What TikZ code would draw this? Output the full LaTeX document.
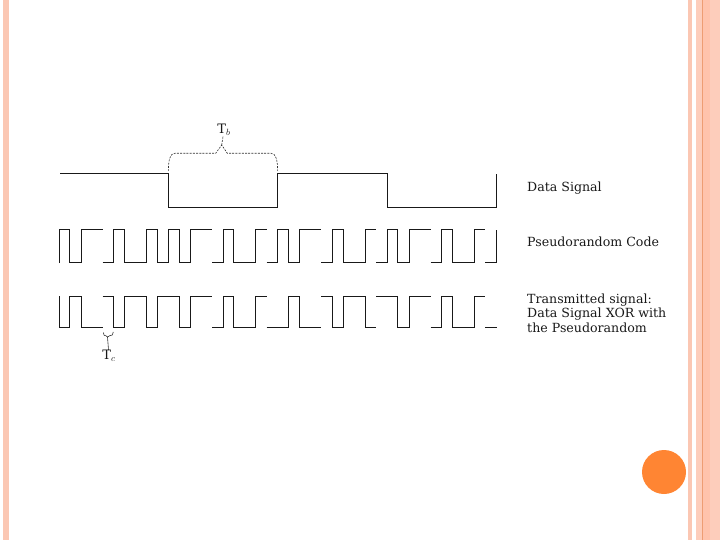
\documentclass[tikz,border=0pt]{standalone}
\usepackage{fontspec}
\setmainfont{DejaVu Serif}
\definecolor{barpeach}{HTML}{FBC7B3}
\definecolor{barlight}{HTML}{FDCDBB}
\definecolor{barmid}{HTML}{FFC3AC}
\definecolor{barline}{HTML}{EE9D73}
\definecolor{dotorange}{HTML}{FF8533}
\tikzset{
  signal/.style={line width=1pt,black!90},
  bracket/.style={line width=0.6pt,black!80},
  sigtext/.style={anchor=base west,font=\fontsize{12.6}{14.5}\selectfont,align=left,text=black!90,inner sep=0pt},
  symtext/.style={font=\fontsize{13}{15}\selectfont,text=black!90,inner sep=0pt}
}
\begin{document}
\begin{tikzpicture}[x=1pt,y=-1pt]
  \useasboundingbox (0,0) rectangle (720,540);
  % slide background
  \fill[barpeach] (3,0) rectangle (9,540);
  \fill[barpeach] (688,0) rectangle (692,540);
  \fill[barlight] (696,0) rectangle (703,540);
  \fill[barmid] (703,0) rectangle (710,540);
  \fill[barlight] (710,0) rectangle (720,540);
  \fill[barline] (702,0) rectangle (703,540);
  \fill[dotorange] (664,472) circle (22);

  % data signal
  \draw[signal] (60,174) -- (168.4,174) -- (168.4,207.5) -- (277.6,207.5) -- (277.6,174) -- (387,174) -- (387,207.5) -- (496.4,207.5) -- (496.4,174);
  \coordinate (tbpeak) at (221.7,145);
  \node[symtext] (tb) at (224,130) {T$_b$};
  \draw[bracket,dash pattern=on 2pt off 1.2pt] (168.4,171) .. controls (168.4,160) and (170,153.3) .. (175,153.3) -- (215.7,153.3) -- (tbpeak) -- (227.3,153.3) -- (271,153.3) .. controls (276,153.3) and (277.6,160) .. (277.6,171);
  \draw[bracket,dash pattern=on 2pt off 1.2pt] (tbpeak) -- (tb);

  % pseudorandom code
  \draw[signal] (59.4,263) -- (59.4,229.5) -- (69.4,229.5) -- (69.4,262.7) -- (81.3,262.7) -- (81.3,229.5) -- (102.7,229.5);
  \draw[signal] (102.7,262.7) -- (113.3,262.7) -- (113.3,229.5) -- (124.7,229.5) -- (124.7,262.7) -- (146.7,262.7) -- (146.7,229.5) -- (157.7,229.5) -- (157.7,262.7) -- (168.7,262.7) -- (168.7,229.5) -- (179.3,229.5) -- (179.3,262.7) -- (190.7,262.7) -- (190.7,229.5) -- (212,229.5);
  \draw[signal] (212,262.7) -- (223.7,262.7) -- (223.7,229.5) -- (233.3,229.5) -- (233.3,262.7) -- (255.7,262.7) -- (255.7,229.5) -- (266.7,229.5);
  \draw[signal] (266.7,262.7) -- (277.3,262.7) -- (277.3,229.5) -- (288.3,229.5) -- (288.3,262.7) -- (299.7,262.7) -- (299.7,229.5) -- (321,229.5);
  \draw[signal] (321,262.7) -- (332.3,262.7) -- (332.3,229.5) -- (343.3,229.5) -- (343.3,262.7) -- (365.3,262.7) -- (365.3,229.5) -- (376,229.5);
  \draw[signal] (376,262.7) -- (387.7,262.7) -- (387.7,229.5) -- (397.3,229.5) -- (397.3,262.7) -- (409.3,262.7) -- (409.3,229.5) -- (430.7,229.5);
  \draw[signal] (430.7,262.7) -- (441.7,262.7) -- (441.7,229.5) -- (452.7,229.5) -- (452.7,262.7) -- (474.3,262.7) -- (474.3,229.5) -- (485.3,229.5);
  \draw[signal] (485.3,262.7) -- (496.7,262.7) -- (496.7,230);

  % transmitted signal
  \draw[signal] (59.4,296) -- (59.4,327.7) -- (69.4,327.7) -- (69.4,296) -- (81.3,296) -- (81.3,327.7) -- (102.7,327.7);
  \draw[signal] (102.7,296) -- (113.3,296) -- (113.3,327.7) -- (124.7,327.7) -- (124.7,296) -- (146.7,296) -- (146.7,327.7) -- (157.7,327.7) -- (157.7,296) -- (179.3,296) -- (179.3,327.7) -- (190.7,327.7) -- (190.7,296) -- (212,296);
  \draw[signal] (212,327.7) -- (223.7,327.7) -- (223.7,296) -- (233.3,296) -- (233.3,327.7) -- (255.7,327.7) -- (255.7,296) -- (266.7,296);
  \draw[signal] (266.7,327.7) -- (288.3,327.7) -- (288.3,296) -- (299.7,296) -- (299.7,327.7) -- (321,327.7);
  \draw[signal] (321,296) -- (332.3,296) -- (332.3,327.7) -- (343.3,327.7) -- (343.3,296) -- (365.3,296) -- (365.3,327.7) -- (376,327.7);
  \draw[signal] (376,296) -- (397.3,296) -- (397.3,327.7) -- (409.3,327.7) -- (409.3,296) -- (430.7,296);
  \draw[signal] (430.7,327.7) -- (441.7,327.7) -- (441.7,296) -- (452.7,296) -- (452.7,327.7) -- (474.3,327.7) -- (474.3,296) -- (485.3,296);
  \draw[signal] (485.3,327.7) -- (496.7,327.7);

  \coordinate (tcpeak) at (107.5,337);
  \node[symtext] (tc) at (109,356) {T$_c$};
  \draw[bracket] (103.3,332.5) .. controls (103.5,335.5) and (104.5,335.8) .. (106,335.8) -- (tcpeak) -- (109.5,335.8) .. controls (112,335.8) and (113,335) .. (113.3,332);
  \draw[bracket] (tcpeak) -- (tc);

  % labels
  \node[sigtext] (datalabel) at (527,192) {Data Signal};
  \node[sigtext] (codelabel) at (527,247) {Pseudorandom Code};
  \node[sigtext] (txlabel) at (527,332) {Transmitted signal:\\Data Signal XOR with\\the Pseudorandom};
\end{tikzpicture}
\end{document}
